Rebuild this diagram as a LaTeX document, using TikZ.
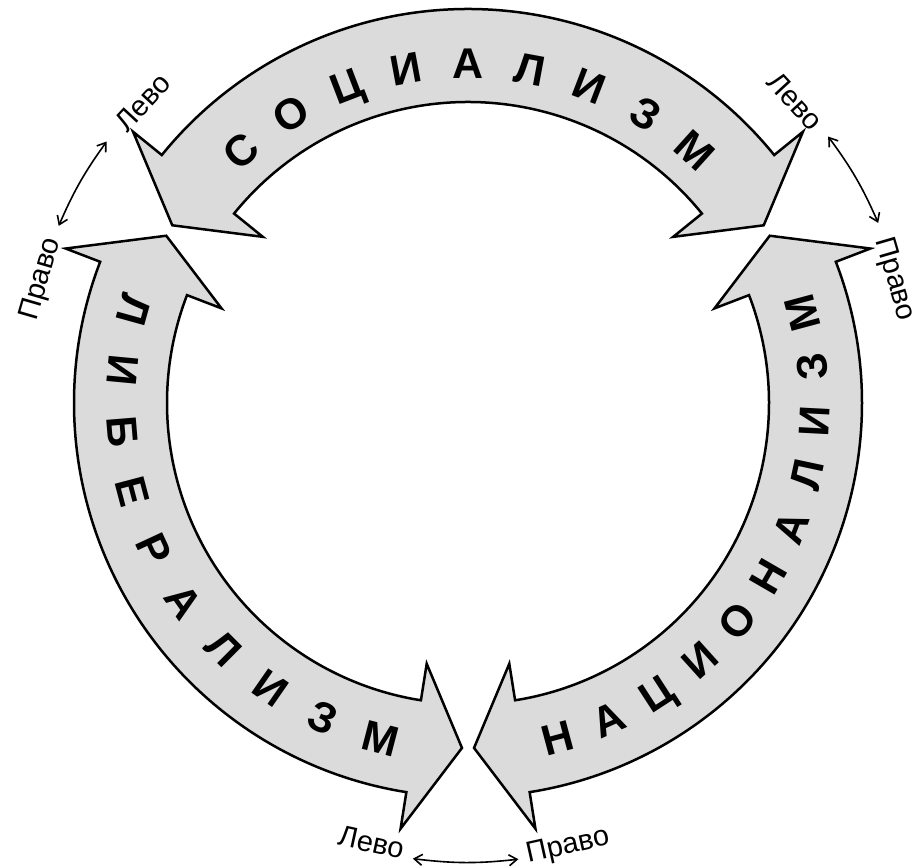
\documentclass[tikz,border=0pt]{standalone}
\usepackage{fontspec}
\setmainfont{Liberation Sans}
\usetikzlibrary{arrows.meta}
\newcommand\bandarrow[2]{%
  \pgfmathsetmacro\tipA{#1-8}\pgfmathsetmacro\tipB{#2+8}%
  \draw[band] (#1:394pt) arc[start angle=#1, end angle=#2, radius=394pt]
    -- (#2:431pt) -- (\tipB:345pt) -- (#2:264pt) -- (#2:301pt)
    arc[start angle=#2, end angle=#1, radius=301pt]
    -- (#1:264pt) -- (\tipA:345pt) -- (#1:431pt) -- cycle;}
\begin{document}
\begin{tikzpicture}[x=1pt,y=1pt,
  band/.style={draw=black, line width=2.5pt, fill=black!14, line join=miter},
  bigletter/.style={font=\bfseries\fontsize{43}{43}\selectfont, inner sep=0pt, text height=31pt, text depth=0pt},
  lbl/.style={font=\fontsize{29}{29}\selectfont, inner sep=0pt},
  lr/.style={{Straight Barb[length=8pt,width=11pt]}-{Straight Barb[length=8pt,width=11pt]}, line width=1.6pt}
]
\useasboundingbox (0,0) rectangle (920,867);
\fill[white] (0,0) rectangle (920,867);
\begin{scope}[shift={(468,464)}]
  \bandarrow{39}{141}
  \bandarrow{159}{261}
  \bandarrow{279}{381}
  % СОЦИАЛИЗМ (clockwise, tops outward)
  \foreach \ch [count=\i from 0] in {С,О,Ц,И,А,Л,И,З,М}{
    \pgfmathsetmacro\ang{132-10.5*\i}
    \pgfmathsetmacro\rot{\ang-90}
    \node[bigletter, rotate=\rot] (soc\i) at (\ang:340pt) {\ch};
  }
  % ЛИБЕРАЛИЗМ (counterclockwise, tops inward)
  \foreach \ch [count=\i from 0] in {Л,И,Б,Е,Р,А,Л,И,З,М}{
    \pgfmathsetmacro\ang{164.5+10.1*\i}
    \pgfmathsetmacro\rot{\ang+90}
    \node[bigletter, rotate=\rot] (lib\i) at (\ang:346pt) {\ch};
  }
  % НАЦИОНАЛИЗМ (counterclockwise, tops inward)
  \foreach \ch [count=\i from 0] in {Н,А,Ц,И,О,Н,А,Л,И,З,М}{
    \pgfmathsetmacro\ang{285+9*\i}
    \pgfmathsetmacro\rot{\ang+90}
    \node[bigletter, rotate=\rot] (nat\i) at (\ang:346pt) {\ch};
  }
  % labels
  \node[lbl, rotate=47.3] (tlL) at (137.3:443pt) {Лево};
  \node[lbl, rotate=73.8] (tlP) at (163.8:444pt) {Право};
  \node[lbl, rotate=-47.3] (trL) at (42.7:445pt) {Лево};
  \node[lbl, rotate=-73.8] (trP) at (16.2:444pt) {Право};
  \node[lbl, rotate=-12.4] (bL) at (257.6:450pt) {Лево};
  \node[lbl, rotate=12.6] (bP) at (282.7:455pt) {Право};
  % double arrows
  \coordinate (tla) at (144.1:446pt); \coordinate (tlb) at (156.6:446pt);
  \draw[lr] (tla) to[bend right=6.2] (tlb);
  \coordinate (tra) at (36.5:448pt); \coordinate (trb) at (23.7:448pt);
  \draw[lr] (tra) to[bend left=6.4] (trb);
  \coordinate (ba) at (263.1:459pt); \coordinate (bb) at (276.3:459pt);
  \draw[lr] (ba) to[bend right=6.6] (bb);
\end{scope}
\end{tikzpicture}
\end{document}
